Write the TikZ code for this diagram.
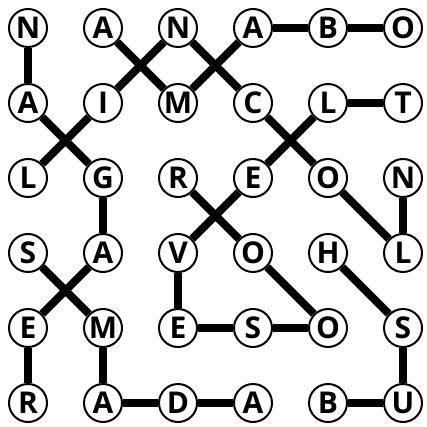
\documentclass[tikz,border=0pt]{standalone}
\usepackage{fontspec}
\setmainfont{Open Sans}
\usetikzlibrary{positioning}

\begin{document}
\begin{tikzpicture}[x=1pt, y=-1pt,
    letter/.style={circle, draw, line width=2pt, fill=white, minimum size=38pt, inner sep=0pt, font=\bfseries\fontsize{30pt}{30pt}\selectfont},
    link/.style={line width=8pt}]
        \useasboundingbox (0,0) rectangle (426,427);

        % Row 1
        \node[letter] (r0c0) at (28,28)  {N};
        \node[letter] (r0c1) at (103,28) {A};
        \node[letter] (r0c2) at (178,28) {N};
        \node[letter] (r0c3) at (253,28) {A};
        \node[letter] (r0c4) at (328,28) {B};
        \node[letter] (r0c5) at (403,28) {O};

        % Row 2
        \node[letter] (r1c0) at (28,103)  {A};
        \node[letter] (r1c1) at (103,103) {I};
        \node[letter] (r1c2) at (178,103) {M};
        \node[letter] (r1c3) at (253,103) {C};
        \node[letter] (r1c4) at (328,103) {L};
        \node[letter] (r1c5) at (403,103) {T};

        % Row 3
        \node[letter] (r2c0) at (28,178)  {L};
        \node[letter] (r2c1) at (103,178) {G};
        \node[letter] (r2c2) at (178,178) {R};
        \node[letter] (r2c3) at (253,178) {E};
        \node[letter] (r2c4) at (328,178) {O};
        \node[letter] (r2c5) at (403,178) {N};

        % Row 4
        \node[letter] (r3c0) at (28,253)  {S};
        \node[letter] (r3c1) at (103,253) {A};
        \node[letter] (r3c2) at (178,253) {V};
        \node[letter] (r3c3) at (253,253) {O};
        \node[letter] (r3c4) at (328,253) {H};
        \node[letter] (r3c5) at (403,253) {L};

        % Row 5
        \node[letter] (r4c0) at (28,328)  {E};
        \node[letter] (r4c1) at (103,328) {M};
        \node[letter] (r4c2) at (178,328) {E};
        \node[letter] (r4c3) at (253,328) {S};
        \node[letter] (r4c4) at (328,328) {O};
        \node[letter] (r4c5) at (403,328) {S};

        % Row 6
        \node[letter] (r5c0) at (28,403)  {R};
        \node[letter] (r5c1) at (103,403) {A};
        \node[letter] (r5c2) at (178,403) {D};
        \node[letter] (r5c3) at (253,403) {A};
        \node[letter] (r5c4) at (328,403) {B};
        \node[letter] (r5c5) at (403,403) {U};

        % Straight links
        \draw[link] (r0c0)--(r1c0);
        \draw[link] (r0c3)--(r0c4)--(r0c5);
        \draw[link] (r1c4)--(r1c5);
        \draw[link] (r2c5)--(r3c5);
        \draw[link] (r2c1)--(r3c1);
        \draw[link] (r3c2)--(r4c2)--(r4c3)--(r4c4);
        \draw[link] (r4c0)--(r5c0);
        \draw[link] (r4c1)--(r5c1)--(r5c2)--(r5c3);
        \draw[link] (r4c5)--(r5c5)--(r5c4);

        % Diagonal links
        \draw[link] (r0c1)--(r1c2)--(r0c3);
        \draw[link] (r1c1)--(r0c2)--(r1c3);
        \draw[link] (r1c0)--(r2c1);
        \draw[link] (r1c1)--(r2c0);
        \draw[link] (r1c3)--(r2c4)--(r3c5);
        \draw[link] (r1c4)--(r2c3)--(r3c2);
        \draw[link] (r2c2)--(r3c3)--(r4c4);
        \draw[link] (r3c0)--(r4c1);
        \draw[link] (r3c1)--(r4c0);
        \draw[link] (r3c4)--(r4c5);
    \end{tikzpicture}
\end{document}
